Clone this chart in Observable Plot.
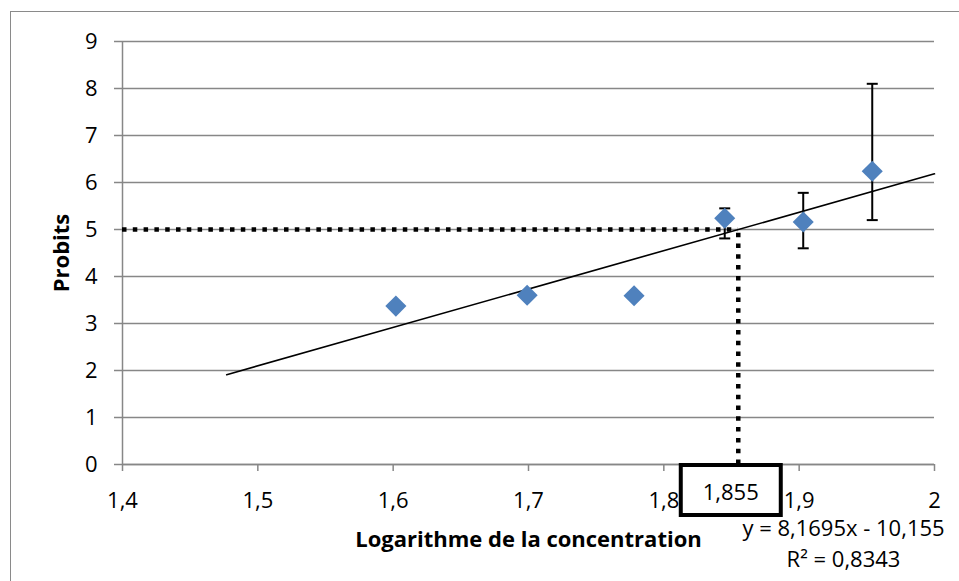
<!DOCTYPE html>
<html>
<head>
<meta charset="utf-8">
<script src="https://cdn.jsdelivr.net/npm/d3@7"></script>
<script src="https://cdn.jsdelivr.net/npm/@observablehq/plot@0.6"></script>
<style>
  html, body { margin: 0; padding: 0; background: #fff; }
  #chart { position: relative; width: 959px; height: 581px; overflow: hidden; }
  #chart .border { position: absolute; left: 10px; top: 11px; right: -10px; bottom: -10px;
    border-top: 1.5px solid #8a8a8a; border-left: 1.5px solid #8a8a8a; }
  #chart svg { position: absolute; left: 0; top: 0; }
</style>
</head>
<body>
<div id="chart"><div class="border"></div></div>
<script>
// Probit analysis: probits against log10 of the concentration
const logConc = [1.602, 1.699, 1.778, 1.845, 1.903, 1.954];
const probits = [3.37, 3.60, 3.59, 5.24, 5.16, 6.24];

// Error bars (low / high ends)
const errConc = [1.845, 1.903, 1.954];
const errLow = [4.81, 4.60, 5.20];
const errHigh = [5.45, 5.78, 8.10];

// Linear trend line and its fit
const slope = 8.1695;
const intercept = -10.155;
const rSquared = 0.8343;
const trendConc = [1.477, 2.0];

// Reading of the concentration at probit 5
const probitTarget = 5;
const logConcAtTarget = 1.855;

const xTicks = [1.4, 1.5, 1.6, 1.7, 1.8, 1.9, 2.0];
const yTicks = [0, 1, 2, 3, 4, 5, 6, 7, 8, 9];
const xLabel = "Logarithme de la concentration";
const yLabel = "Probits";

const comma = (v) => String(+v.toFixed(4)).replace(".", ",");

const points = logConc.map((x, i) => ({x, y: probits[i]}));
const errors = errConc.map((x, i) => ({x, low: errLow[i], high: errHigh[i]}));
const trend = trendConc.map((x) => ({x, y: slope * x + intercept}));

const grid = "#878787";
const blue = "#4f81bd";
const dotted = {stroke: "#000", strokeWidth: 4.5, strokeDasharray: "4.5,6.3"};

// Horizontal cap for the error bars
const cap = {
  draw(context) {
    context.moveTo(-5.5, 0);
    context.lineTo(5.5, 0);
  }
};

// Boxed label under the x axis showing the reading
function readingBox(value, text) {
  return (index, scales) => {
    const cx = scales.x(value) - 7;
    const top = scales.y(0) - 1;
    const g = d3.create("svg:g");
    g.append("rect")
      .attr("x", cx - 50).attr("y", top + 2)
      .attr("width", 100).attr("height", 50)
      .attr("fill", "#fff").attr("stroke", "#000").attr("stroke-width", 4);
    g.append("text")
      .attr("x", cx).attr("y", top + 31)
      .attr("text-anchor", "middle").attr("dominant-baseline", "middle")
      .attr("fill", "#000")
      .text(text);
    return g.node();
  };
}

const chart = Plot.plot({
  width: 959,
  height: 581,
  marginLeft: 122,
  marginRight: 25,
  marginTop: 41,
  marginBottom: 117,
  style: {fontFamily: "'Open Sans', sans-serif", fontSize: "22px", color: "#000", background: "transparent", overflow: "visible"},
  x: {domain: [1.4, 2.0], label: null},
  y: {domain: [0, 9], label: null},
  marks: [
    Plot.gridY(yTicks, {stroke: grid, strokeOpacity: 1, strokeWidth: 1.5}),
    Plot.ruleX([1.4], {y1: 0, y2: 9, stroke: grid, strokeWidth: 1.5}),
    Plot.ruleY([0], {stroke: grid, strokeWidth: 1.5}),
    Plot.axisY({ticks: yTicks, tickSize: 8, tickPadding: 17, stroke: grid, strokeWidth: 1.5, fill: "#000", label: null}),
    Plot.axisX({ticks: xTicks, tickSize: 7, tickPadding: 21, tickFormat: comma, stroke: grid, strokeWidth: 1.5, fill: "#000", label: null}),
    Plot.ruleY([probitTarget], {x1: 1.4, x2: logConcAtTarget, ...dotted}),
    Plot.ruleX([logConcAtTarget], {y1: 0, y2: probitTarget, ...dotted}),
    Plot.line(trend, {x: "x", y: "y", stroke: "#000", strokeWidth: 1.6}),
    Plot.ruleX(errors, {x: "x", y1: "low", y2: "high", stroke: "#000", strokeWidth: 2}),
    Plot.dot(errors, {x: "x", y: "low", symbol: cap, stroke: "#000", strokeWidth: 2, fill: "none"}),
    Plot.dot(errors, {x: "x", y: "high", symbol: cap, stroke: "#000", strokeWidth: 2, fill: "none"}),
    Plot.dot(points, {x: "x", y: "y", symbol: "diamond2", r: 9.5, fill: blue, stroke: "none"}),
    readingBox(logConcAtTarget, comma(logConcAtTarget)),
    Plot.text([`y = ${comma(slope)}x - ${comma(-intercept)}`], {
      frameAnchor: "bottom-right", dx: -91, dy: 64, textAnchor: "middle", lineAnchor: "middle", fill: "#000"
    }),
    Plot.text([`R² = ${comma(rSquared)}`], {
      frameAnchor: "bottom-right", dx: -91, dy: 95, textAnchor: "middle", lineAnchor: "middle", fill: "#000"
    }),
    Plot.text([xLabel], {frameAnchor: "bottom", dy: 75, textAnchor: "middle", lineAnchor: "middle", fontWeight: "bold", fill: "#000"}),
    Plot.text([yLabel], {frameAnchor: "left", dx: -61, rotate: -90, textAnchor: "middle", lineAnchor: "middle", fontWeight: "bold", fill: "#000"})
  ]
});

document.getElementById("chart").appendChild(chart);
</script>
</body>
</html>
